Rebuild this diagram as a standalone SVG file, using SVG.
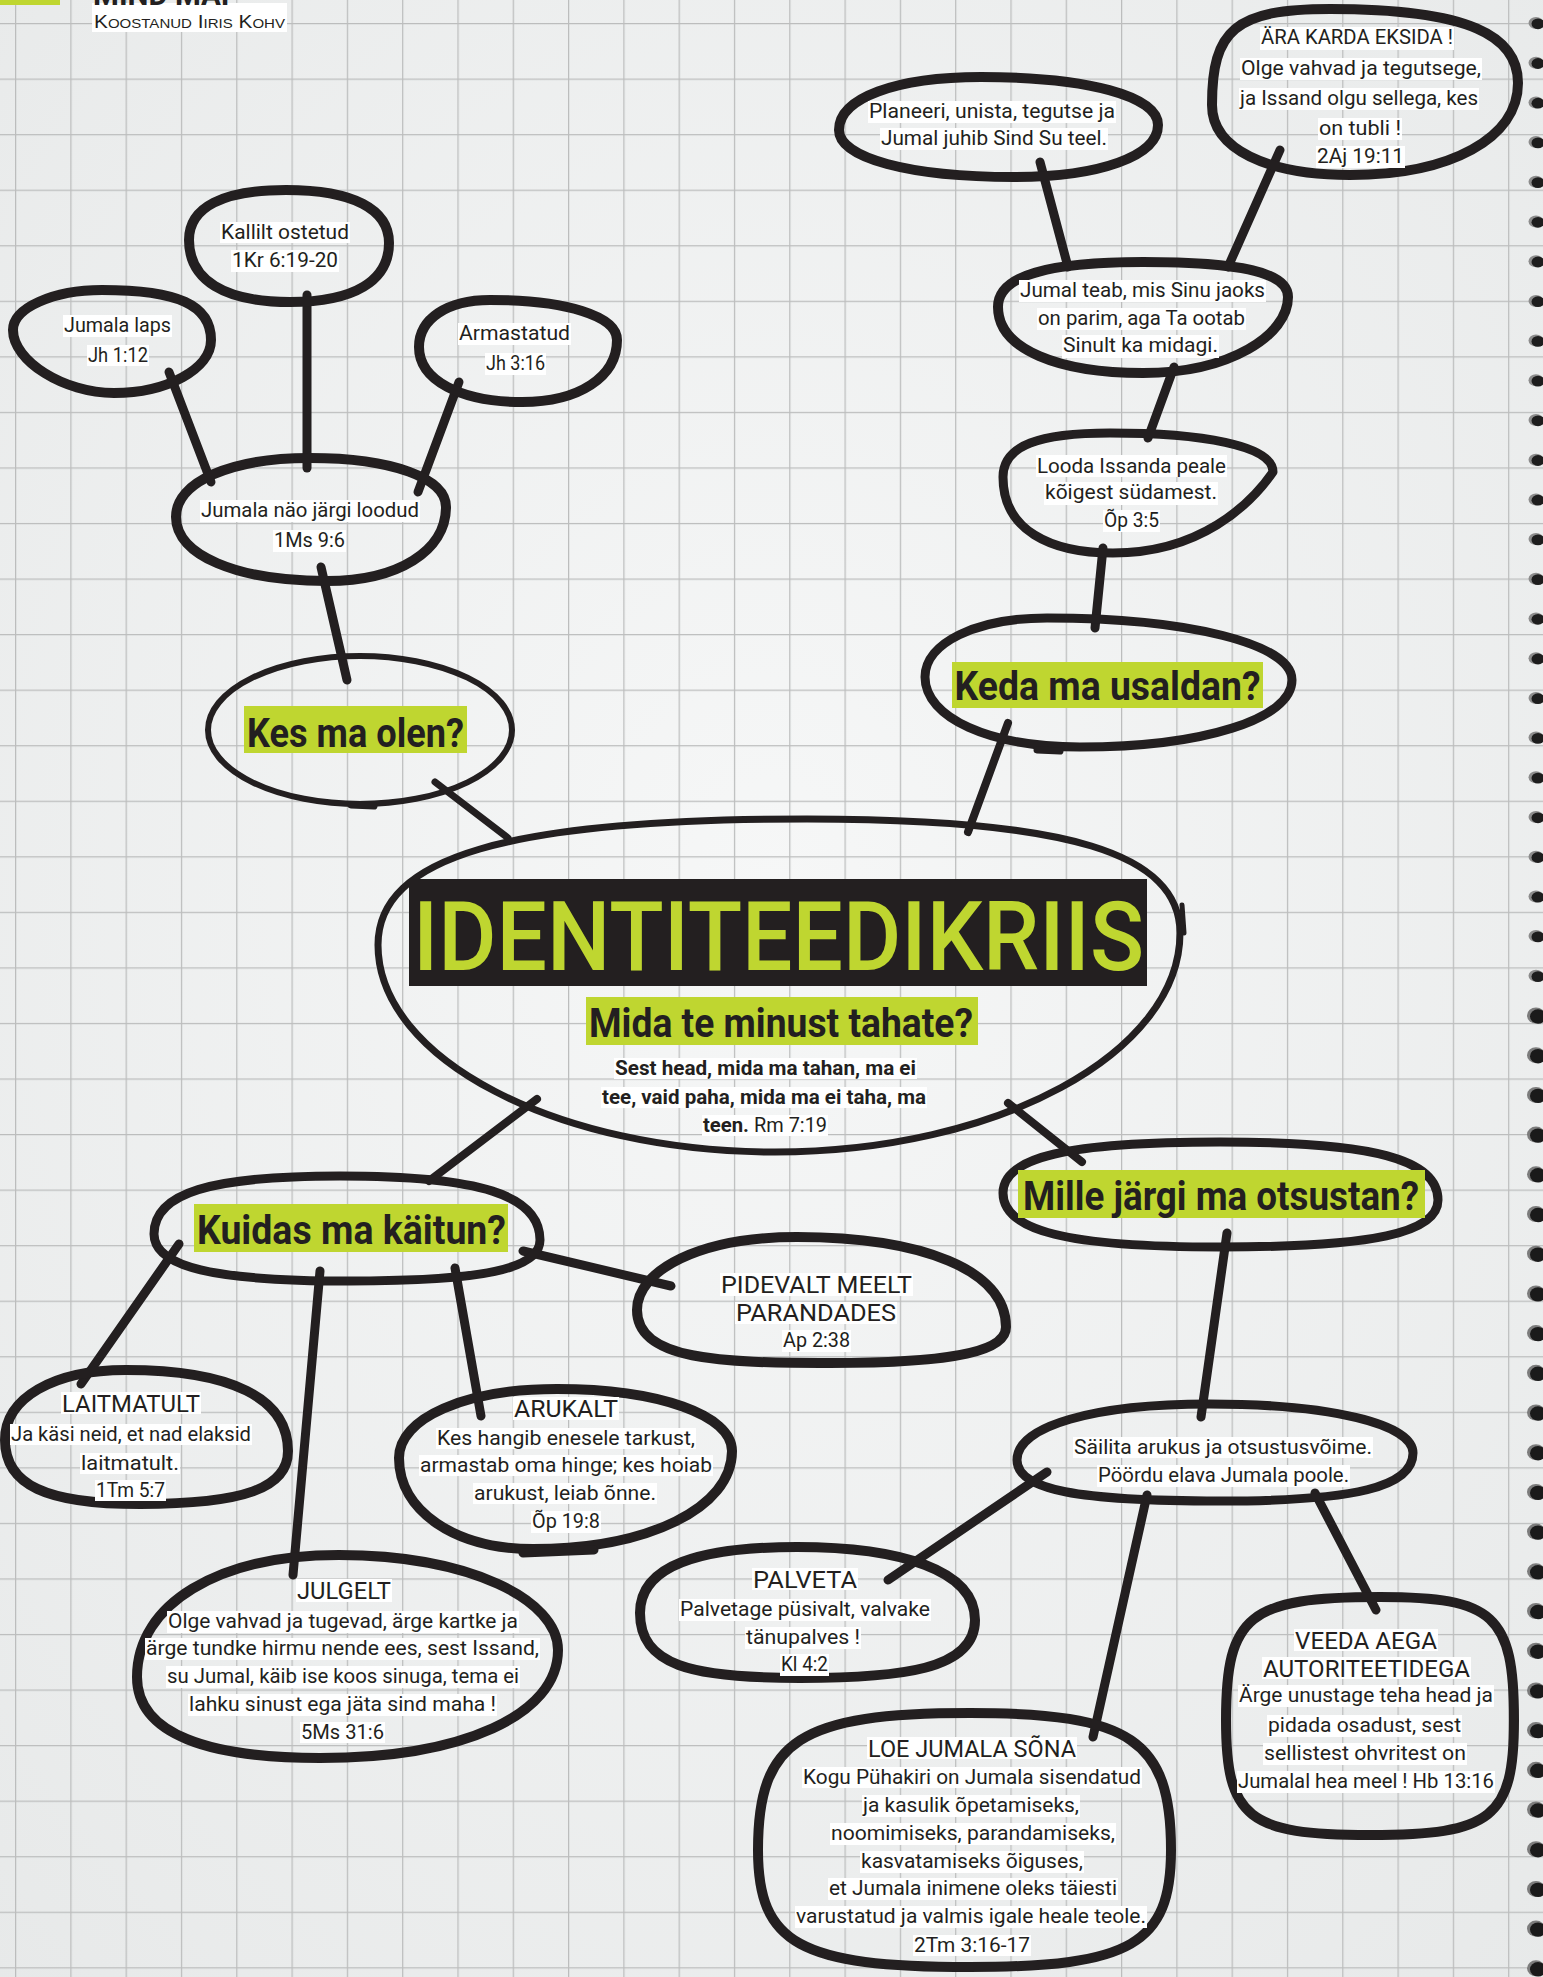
<svg xmlns="http://www.w3.org/2000/svg" xmlns:xlink="http://www.w3.org/1999/xlink" width="1543" height="1977" viewBox="0 0 1543 1977">
<defs>
<radialGradient id="paper" cx="50%" cy="45%" r="75%">
<stop offset="0" stop-color="#f6f7f7"/>
<stop offset="1" stop-color="#e7e9e9"/>
</radialGradient>
<pattern id="grid" patternUnits="userSpaceOnUse" x="15" y="23" width="55.3" height="55.55">
<path d="M0.6 0V55.55M0 0.6H55.3" stroke="#bcbdbd" stroke-width="1.3" fill="none"/>
</pattern>
<g id="ringA"><ellipse cx="0" cy="0" rx="7.5" ry="6" fill="#8c8c8c"/><ellipse cx="2" cy="0.8" rx="6.5" ry="5.4" fill="#1d1d1d"/></g>
<g id="ringB"><ellipse cx="0" cy="0" rx="9" ry="8" fill="#7c7c7c"/><ellipse cx="2" cy="1" rx="8" ry="7.2" fill="#1a1a1a"/></g>
</defs>
<style>
.blob{fill:none;stroke:#231f20;stroke-width:10;stroke-linecap:round;stroke-linejoin:round}
.con{stroke:#231f20;stroke-width:9;stroke-linecap:round;fill:none}
.hl{fill:#ffffff}
.t{font-family:Roboto,"Liberation Sans",sans-serif;font-size:21px;fill:#231f20;text-anchor:middle}
.cap{font-size:24px;font-weight:400}
.b{font-weight:700;font-size:20px}
.q{font-family:Roboto,"Liberation Sans",sans-serif;font-weight:700;font-size:41px;fill:#231f20;text-anchor:middle}
.g{fill:#bfd630}
</style>

<rect width="1543" height="1977" fill="url(#paper)"/>
<rect width="1543" height="1977" fill="url(#grid)"/>

<g id="binding">
<use xlink:href="#ringA" x="1536" y="23"/><use xlink:href="#ringA" x="1536" y="62.7"/><use xlink:href="#ringA" x="1536" y="102.4"/><use xlink:href="#ringA" x="1536" y="142.1"/><use xlink:href="#ringA" x="1536" y="181.8"/><use xlink:href="#ringA" x="1536" y="221.5"/><use xlink:href="#ringA" x="1536" y="261.2"/><use xlink:href="#ringA" x="1536" y="300.9"/><use xlink:href="#ringA" x="1536" y="340.6"/><use xlink:href="#ringA" x="1536" y="380.3"/><use xlink:href="#ringA" x="1536" y="420"/><use xlink:href="#ringA" x="1536" y="459.7"/><use xlink:href="#ringA" x="1536" y="499.4"/><use xlink:href="#ringA" x="1536" y="539.1"/><use xlink:href="#ringA" x="1536" y="578.8"/><use xlink:href="#ringA" x="1536" y="618.5"/><use xlink:href="#ringA" x="1536" y="658.2"/><use xlink:href="#ringA" x="1536" y="697.9"/><use xlink:href="#ringA" x="1536" y="737.6"/><use xlink:href="#ringA" x="1536" y="777.3"/><use xlink:href="#ringA" x="1536" y="817"/><use xlink:href="#ringA" x="1536" y="856.7"/><use xlink:href="#ringA" x="1536" y="896.4"/><use xlink:href="#ringA" x="1536" y="936.1"/><use xlink:href="#ringA" x="1536" y="975.8"/>
<use xlink:href="#ringB" x="1536" y="1015.5"/><use xlink:href="#ringB" x="1536" y="1055.2"/><use xlink:href="#ringB" x="1536" y="1094.9"/><use xlink:href="#ringB" x="1536" y="1134.6"/><use xlink:href="#ringB" x="1536" y="1174.3"/><use xlink:href="#ringB" x="1536" y="1214"/><use xlink:href="#ringB" x="1536" y="1253.7"/><use xlink:href="#ringB" x="1536" y="1293.4"/><use xlink:href="#ringB" x="1536" y="1333.1"/><use xlink:href="#ringB" x="1536" y="1372.8"/><use xlink:href="#ringB" x="1536" y="1412.5"/><use xlink:href="#ringB" x="1536" y="1452.2"/><use xlink:href="#ringB" x="1536" y="1491.9"/><use xlink:href="#ringB" x="1536" y="1531.6"/><use xlink:href="#ringB" x="1536" y="1571.3"/><use xlink:href="#ringB" x="1536" y="1611"/><use xlink:href="#ringB" x="1536" y="1650.7"/><use xlink:href="#ringB" x="1536" y="1690.4"/><use xlink:href="#ringB" x="1536" y="1730.1"/><use xlink:href="#ringB" x="1536" y="1769.8"/><use xlink:href="#ringB" x="1536" y="1809.5"/><use xlink:href="#ringB" x="1536" y="1849.2"/><use xlink:href="#ringB" x="1536" y="1888.9"/><use xlink:href="#ringB" x="1536" y="1928.6"/><use xlink:href="#ringB" x="1536" y="1968.3"/>
</g>

<g id="header">
<rect x="0" y="0" width="60" height="5" class="g"/>
<rect x="92" y="3" width="195" height="29" class="hl"/>
<text x="93" y="5" font-family="Roboto,'Liberation Sans',sans-serif" font-weight="700" font-size="30" fill="#231f20" textLength="147" lengthAdjust="spacingAndGlyphs">MIND MAP</text>
<text x="94" y="28" font-family="'Liberation Sans',Roboto,sans-serif" font-size="18" font-variant="small-caps" fill="#231f20" textLength="191" lengthAdjust="spacingAndGlyphs">Koostanud Iiris Kohv</text>
</g>

<g id="connectors">
<line class="con" x1="169" y1="372" x2="211" y2="482"/>
<line class="con" x1="307" y1="295" x2="307" y2="468"/>
<line class="con" x1="459" y1="382" x2="418" y2="492"/>
<line class="con" x1="321" y1="567" x2="347" y2="680"/>
<line class="con" x1="435" y1="782" x2="508" y2="838" style="stroke-width:7"/>
<line class="con" x1="968" y1="832" x2="1008" y2="723" style="stroke-width:8"/>
<line class="con" x1="1103" y1="548" x2="1095" y2="628"/>
<line class="con" x1="1174" y1="367" x2="1148" y2="438"/>
<line class="con" x1="1040" y1="162" x2="1068" y2="267"/>
<line class="con" x1="1280" y1="150" x2="1228" y2="267"/>
<line class="con" x1="537" y1="1099" x2="429" y2="1181" style="stroke-width:8"/>
<line class="con" x1="1008" y1="1103" x2="1082" y2="1162" style="stroke-width:8"/>
<line class="con" x1="1227" y1="1233" x2="1201" y2="1417"/>
<line class="con" x1="1047" y1="1472" x2="888" y2="1580"/>
<line class="con" x1="1147" y1="1495" x2="1093" y2="1737"/>
<line class="con" x1="1315" y1="1493" x2="1376" y2="1610"/>
<line class="con" x1="523" y1="1251" x2="671" y2="1286"/>
<line class="con" x1="179" y1="1244" x2="81" y2="1384"/>
<line class="con" x1="320" y1="1271" x2="293" y2="1575"/>
<line class="con" x1="455" y1="1268" x2="481" y2="1416"/>
</g>

<g id="node-jumala-laps">
<path class="blob" d="M102,290 C178,290 211,305 211,340 C211,369 167,393 114,393 C64,393 13,361 13,330 C13,308 53,290 102,290Z"/>
<rect class="hl" x="63" y="315" width="109" height="22"/>
<text class="t" x="117.5" y="332" textLength="107" lengthAdjust="spacingAndGlyphs">Jumala laps</text>
<rect class="hl" x="87" y="345" width="62" height="21"/>
<text class="t" x="118" y="362" textLength="60" lengthAdjust="spacingAndGlyphs">Jh 1:12</text>
</g>

<g id="node-kallilt">
<path class="blob" d="M286,190 C353,190 389,209 389,243 C389,281 354,302 290,302 C224,302 189,280 189,240 C189,207 223,190 286,190Z"/>
<rect class="hl" x="220" y="222" width="130" height="21"/>
<text class="t" x="285" y="239" textLength="128" lengthAdjust="spacingAndGlyphs">Kallilt ostetud</text>
<rect class="hl" x="231" y="250" width="108" height="22"/>
<text class="t" x="285" y="267" textLength="106" lengthAdjust="spacingAndGlyphs">1Kr 6:19-20</text>
</g>

<g id="node-armastatud">
<path class="blob" d="M490,300 C566,300 617,316 617,340 C617,377 579,402 522,402 C460,402 419,380 419,347 C419,319 447,300 490,300Z"/>
<rect class="hl" x="458" y="323" width="113" height="22"/>
<text class="t" x="514.5" y="340" textLength="111" lengthAdjust="spacingAndGlyphs">Armastatud</text>
<rect class="hl" x="485" y="353" width="61" height="22"/>
<text class="t" x="515.5" y="370" textLength="59" lengthAdjust="spacingAndGlyphs">Jh 3:16</text>
</g>

<g id="node-jumala-nao">
<path class="blob" d="M310,458 C392,458 446,478 446,507 C446,551 398,581 327,581 C236,581 176,555 176,517 C176,482 230,458 310,458Z"/>
<rect class="hl" x="200" y="500" width="220" height="22"/>
<text class="t" x="310" y="517" textLength="218" lengthAdjust="spacingAndGlyphs">Jumala näo järgi loodud</text>
<rect class="hl" x="273" y="530" width="73" height="22"/>
<text class="t" x="309.5" y="547" textLength="71" lengthAdjust="spacingAndGlyphs">1Ms 9:6</text>
</g>

<g id="node-kes-ma-olen">
<ellipse cx="360" cy="730" rx="152" ry="74" class="blob" style="stroke-width:6"/>
<line x1="351" y1="805" x2="374" y2="806" class="con" style="stroke-width:7"/>
<rect class="g" x="244" y="706" width="223" height="47"/>
<text class="q" x="355.5" y="747" font-size="42" textLength="217" lengthAdjust="spacingAndGlyphs">Kes ma olen?</text>
</g>

<g id="node-planeeri">
<path class="blob" d="M981,77 C1087,77 1158,96 1158,125 C1158,156 1100,177 1014,177 C909,177 839,158 839,130 C839,98 896,77 981,77Z"/>
<rect class="hl" x="868" y="101" width="248" height="22"/>
<text class="t" x="992" y="118" textLength="246" lengthAdjust="spacingAndGlyphs">Planeeri, unista, tegutse ja</text>
<rect class="hl" x="880" y="128" width="228" height="22"/>
<text class="t" x="994" y="145" textLength="226" lengthAdjust="spacingAndGlyphs">Jumal juhib Sind Su teel.</text>
</g>

<g id="node-ara-karda">
<path class="blob" d="M1330,9 C1470,9 1518,36 1518,83 C1518,138 1451,175 1350,175 C1267,175 1212,149 1212,105 C1212,30 1235,9 1330,9Z"/>
<rect class="hl" x="1260" y="27" width="194" height="23"/>
<text class="t" x="1357" y="44" textLength="192" lengthAdjust="spacingAndGlyphs">ÄRA KARDA EKSIDA !</text>
<rect class="hl" x="1240" y="58" width="242" height="22"/>
<text class="t" x="1361" y="75" textLength="240" lengthAdjust="spacingAndGlyphs">Olge vahvad ja tegutsege,</text>
<rect class="hl" x="1239" y="88" width="240" height="22"/>
<text class="t" x="1359" y="105" textLength="238" lengthAdjust="spacingAndGlyphs">ja Issand olgu sellega, kes</text>
<rect class="hl" x="1318" y="118" width="84" height="22"/>
<text class="t" x="1360" y="135" textLength="82" lengthAdjust="spacingAndGlyphs">on tubli !</text>
<rect class="hl" x="1316" y="146" width="89" height="22"/>
<text class="t" x="1360.5" y="163" textLength="87" lengthAdjust="spacingAndGlyphs">2Aj 19:11</text>
</g>

<g id="node-jumal-teab">
<path class="blob" d="M1143,262 C1240,262 1288,272 1288,297 C1288,335 1230,373 1143,373 C1060,373 998,350 998,307 C998,275 1050,262 1143,262Z"/>
<rect class="hl" x="1019" y="280" width="247" height="22"/>
<text class="t" x="1142.5" y="297" textLength="245" lengthAdjust="spacingAndGlyphs">Jumal teab, mis Sinu jaoks</text>
<rect class="hl" x="1037" y="308" width="209" height="22"/>
<text class="t" x="1141.5" y="325" textLength="207" lengthAdjust="spacingAndGlyphs">on parim, aga Ta ootab</text>
<rect class="hl" x="1062" y="335" width="157" height="23"/>
<text class="t" x="1140.5" y="352" textLength="155" lengthAdjust="spacingAndGlyphs">Sinult ka midagi.</text>
</g>

<g id="node-looda">
<path class="blob" style="stroke-width:9" d="M1110,433 C1200,433 1273,445 1273,472 C1250,505 1200,553 1113,553 C1050,553 1003,530 1003,477 C1003,445 1040,433 1110,433Z"/>
<rect class="hl" x="1036" y="455" width="191" height="22"/>
<text class="t" x="1131.5" y="473" textLength="189" lengthAdjust="spacingAndGlyphs">Looda Issanda peale</text>
<rect class="hl" x="1044" y="482" width="174" height="23"/>
<text class="t" x="1131" y="499" textLength="172" lengthAdjust="spacingAndGlyphs">kõigest südamest.</text>
<rect class="hl" x="1103" y="510" width="57" height="22"/>
<text class="t" x="1131.5" y="527" textLength="55" lengthAdjust="spacingAndGlyphs">Õp 3:5</text>
</g>

<g id="node-keda">
<path class="blob" style="stroke-width:9" d="M1047,618 C1189,618 1292,644 1292,680 C1292,719 1203,747 1080,747 C990,747 925,718 925,677 C925,643 976,618 1047,618Z"/>
<line x1="1037" y1="750" x2="1060" y2="751" class="con" style="stroke-width:7"/>
<rect class="g" x="952" y="662" width="311" height="46"/>
<text class="q" x="1107.5" y="700" font-size="40" textLength="306" lengthAdjust="spacingAndGlyphs">Keda ma usaldan?</text>
</g>

<g id="node-center">
<path class="blob" style="stroke-width:7" d="M807,819 C1068,819 1180,853 1180,933 C1180,1053 998,1152 775,1152 C557,1152 378,1059 378,945 C378,857 507,819 807,819Z"/>
<line x1="1182" y1="905" x2="1184" y2="933" class="con" style="stroke-width:5"/>
<rect x="409" y="879" width="738" height="107" fill="#231f20"/>
<text x="778.5" y="970" font-family="Roboto,'Liberation Sans',sans-serif" font-weight="500" font-size="96" fill="#bfd630" text-anchor="middle" textLength="731" lengthAdjust="spacingAndGlyphs">IDENTITEEDIKRIIS</text>
<rect class="g" x="586" y="997" width="392" height="48"/>
<text class="q" x="781" y="1037" font-size="38" textLength="384" lengthAdjust="spacingAndGlyphs">Mida te minust tahate?</text>
<rect class="hl" x="614" y="1058" width="303" height="21"/>
<text class="t b" x="765.5" y="1075" textLength="301" lengthAdjust="spacingAndGlyphs">Sest head, mida ma tahan, ma ei</text>
<rect class="hl" x="601" y="1087" width="326" height="21"/>
<text class="t b" x="764" y="1104" textLength="324" lengthAdjust="spacingAndGlyphs">tee, vaid paha, mida ma ei taha, ma</text>
<rect class="hl" x="702" y="1115" width="126" height="21"/>
<text class="t b" x="703" y="1132" style="text-anchor:start" textLength="46" lengthAdjust="spacingAndGlyphs">teen.</text>
<text class="t" x="754" y="1132" style="text-anchor:start;font-size:20px" textLength="73" lengthAdjust="spacingAndGlyphs">Rm 7:19</text>
</g>

<g id="node-kuidas">
<path class="blob" style="stroke-width:9" d="M340,1176 C480,1176 540,1195 540,1240 C540,1269 483,1281 350,1281 C213,1281 154,1267 154,1234 C154,1193 210,1176 340,1176Z"/>
<rect class="g" x="194" y="1204" width="314" height="48"/>
<text class="q" x="351.5" y="1244" font-size="40" textLength="309" lengthAdjust="spacingAndGlyphs">Kuidas ma käitun?</text>
</g>

<g id="node-mille">
<path class="blob" style="stroke-width:9" d="M1220,1142 C1373,1142 1438,1159 1438,1200 C1438,1233 1373,1247 1220,1247 C1068,1247 1003,1231 1003,1193 C1003,1157 1068,1142 1220,1142Z"/>
<rect class="g" x="1018" y="1170" width="407" height="48"/>
<text class="q" x="1221" y="1210" font-size="40" textLength="396" lengthAdjust="spacingAndGlyphs">Mille järgi ma otsustan?</text>
</g>

<g id="node-pidevalt">
<path class="blob" d="M797,1237 C922,1237 1006,1270 1006,1327 C1006,1350 960,1363 830,1363 C720,1363 637,1360 637,1310 C637,1270 700,1237 797,1237Z"/>
<rect class="hl" x="720" y="1273" width="193" height="23"/>
<text class="t cap" x="816.5" y="1293" textLength="191" lengthAdjust="spacingAndGlyphs">PIDEVALT MEELT</text>
<rect class="hl" x="735" y="1302" width="162" height="22"/>
<text class="t cap" x="816" y="1321" textLength="160" lengthAdjust="spacingAndGlyphs">PARANDADES</text>
<rect class="hl" x="782" y="1330" width="69" height="22"/>
<text class="t" x="816.5" y="1347" textLength="67" lengthAdjust="spacingAndGlyphs">Ap 2:38</text>
</g>

<g id="node-laitmatult">
<path class="blob" d="M126,1370 C231,1370 288,1398 288,1451 C288,1488 244,1504 140,1504 C46,1504 5,1485 5,1440 C5,1398 53,1370 126,1370Z"/>
<rect class="hl" x="61" y="1392" width="140" height="22"/>
<text class="t cap" x="131" y="1412" textLength="138" lengthAdjust="spacingAndGlyphs">LAITMATULT</text>
<rect class="hl" x="10" y="1424" width="242" height="21"/>
<text class="t" x="131" y="1441" textLength="240" lengthAdjust="spacingAndGlyphs">Ja käsi neid, et nad elaksid</text>
<rect class="hl" x="80" y="1453" width="100" height="21"/>
<text class="t" x="130" y="1470" textLength="98" lengthAdjust="spacingAndGlyphs">laitmatult.</text>
<rect class="hl" x="95" y="1480" width="71" height="21"/>
<text class="t" x="130.5" y="1497" textLength="69" lengthAdjust="spacingAndGlyphs">1Tm 5:7</text>
</g>

<g id="node-arukalt">
<path class="blob" d="M557,1389 C659,1389 732,1415 732,1451 C732,1508 648,1549 533,1549 C455,1549 399,1511 399,1458 C399,1418 465,1389 557,1389Z"/>
<line x1="523" y1="1553" x2="594" y2="1550" class="con" style="stroke-width:9"/>
<rect class="hl" x="513" y="1397" width="106" height="23"/>
<text class="t cap" x="566" y="1417" textLength="104" lengthAdjust="spacingAndGlyphs">ARUKALT</text>
<rect class="hl" x="436" y="1428" width="260" height="21"/>
<text class="t" x="566" y="1445" textLength="258" lengthAdjust="spacingAndGlyphs">Kes hangib enesele tarkust,</text>
<rect class="hl" x="419" y="1455" width="294" height="21"/>
<text class="t" x="566" y="1472" textLength="292" lengthAdjust="spacingAndGlyphs">armastab oma hinge; kes hoiab</text>
<rect class="hl" x="473" y="1483" width="184" height="21"/>
<text class="t" x="565" y="1500" textLength="182" lengthAdjust="spacingAndGlyphs">arukust, leiab õnne.</text>
<rect class="hl" x="531" y="1511" width="70" height="22"/>
<text class="t" x="566" y="1528" textLength="68" lengthAdjust="spacingAndGlyphs">Õp 19:8</text>
</g>

<g id="node-julgelt">
<path class="blob" d="M339,1555 C470,1555 558,1600 558,1650 C558,1715 463,1758 320,1758 C210,1758 137,1735 137,1677 C137,1604 218,1555 339,1555Z"/>
<rect class="hl" x="296" y="1579" width="96" height="23"/>
<text class="t cap" x="344" y="1599" textLength="94" lengthAdjust="spacingAndGlyphs">JULGELT</text>
<rect class="hl" x="167" y="1611" width="352" height="22"/>
<text class="t" x="343" y="1628" textLength="350" lengthAdjust="spacingAndGlyphs">Olge vahvad ja tugevad, ärge kartke ja</text>
<rect class="hl" x="145" y="1638" width="395" height="22"/>
<text class="t" x="342.5" y="1655" textLength="393" lengthAdjust="spacingAndGlyphs">ärge tundke hirmu nende ees, sest Issand,</text>
<rect class="hl" x="166" y="1666" width="354" height="22"/>
<text class="t" x="343" y="1683" textLength="352" lengthAdjust="spacingAndGlyphs">su Jumal, käib ise koos sinuga, tema ei</text>
<rect class="hl" x="188" y="1694" width="309" height="22"/>
<text class="t" x="342.5" y="1711" textLength="307" lengthAdjust="spacingAndGlyphs">lahku sinust ega jäta sind maha !</text>
<rect class="hl" x="300" y="1722" width="85" height="21"/>
<text class="t" x="342.5" y="1739" textLength="83" lengthAdjust="spacingAndGlyphs">5Ms 31:6</text>
</g>

<g id="node-sailita">
<path class="blob" style="stroke-width:9" d="M1209,1404 C1331,1404 1413,1424 1413,1453 C1413,1487 1355,1501 1220,1501 C1078,1501 1017,1490 1017,1460 C1017,1426 1094,1404 1209,1404Z"/>
<rect class="hl" x="1073" y="1437" width="300" height="21"/>
<text class="t" x="1223" y="1454" textLength="298" lengthAdjust="spacingAndGlyphs">Säilita arukus ja otsustusvõime.</text>
<rect class="hl" x="1097" y="1465" width="253" height="22"/>
<text class="t" x="1223.5" y="1482" textLength="251" lengthAdjust="spacingAndGlyphs">Pöördu elava Jumala poole.</text>
</g>

<g id="node-palveta">
<path class="blob" d="M797,1547 C900,1547 975,1570 975,1620 C975,1670 900,1678 800,1678 C690,1678 640,1665 640,1613 C640,1565 700,1547 797,1547Z"/>
<rect class="hl" x="752" y="1568" width="106" height="22"/>
<text class="t cap" x="805" y="1588" textLength="104" lengthAdjust="spacingAndGlyphs">PALVETA</text>
<rect class="hl" x="679" y="1599" width="252" height="22"/>
<text class="t" x="805" y="1616" textLength="250" lengthAdjust="spacingAndGlyphs">Palvetage püsivalt, valvake</text>
<rect class="hl" x="745" y="1627" width="116" height="22"/>
<text class="t" x="803" y="1644" textLength="114" lengthAdjust="spacingAndGlyphs">tänupalves !</text>
<rect class="hl" x="780" y="1654" width="49" height="22"/>
<text class="t" x="804.5" y="1671" textLength="47" lengthAdjust="spacingAndGlyphs">Kl 4:2</text>
</g>

<g id="node-veeda">
<path class="blob" d="M1380,1597 C1494,1597 1514,1615 1514,1720 C1514,1818 1492,1835 1370,1835 C1248,1835 1226,1818 1226,1720 C1226,1615 1249,1597 1380,1597Z"/>
<rect class="hl" x="1294" y="1629" width="144" height="22"/>
<text class="t cap" x="1366" y="1649" textLength="142" lengthAdjust="spacingAndGlyphs">VEEDA AEGA</text>
<rect class="hl" x="1262" y="1657" width="209" height="22"/>
<text class="t cap" x="1366.5" y="1677" textLength="207" lengthAdjust="spacingAndGlyphs">AUTORITEETIDEGA</text>
<rect class="hl" x="1238" y="1685" width="256" height="22"/>
<text class="t" x="1366" y="1702" textLength="254" lengthAdjust="spacingAndGlyphs">Ärge unustage teha head ja</text>
<rect class="hl" x="1267" y="1715" width="195" height="22"/>
<text class="t" x="1364.5" y="1732" textLength="193" lengthAdjust="spacingAndGlyphs">pidada osadust, sest</text>
<rect class="hl" x="1263" y="1743" width="204" height="22"/>
<text class="t" x="1365" y="1760" textLength="202" lengthAdjust="spacingAndGlyphs">sellistest ohvritest on</text>
<rect class="hl" x="1237" y="1771" width="258" height="22"/>
<text class="t" x="1366" y="1788" textLength="256" lengthAdjust="spacingAndGlyphs">Jumalal hea meel !  Hb 13:16</text>
</g>

<g id="node-loe">
<path class="blob" d="M970,1713 C1131,1713 1171,1740 1171,1850 C1171,1944 1131,1967 970,1967 C800,1967 758,1944 758,1850 C758,1740 800,1713 970,1713Z"/>
<rect class="hl" x="867" y="1737" width="210" height="22"/>
<text class="t cap" x="972" y="1757" textLength="208" lengthAdjust="spacingAndGlyphs">LOE JUMALA SÕNA</text>
<rect class="hl" x="802" y="1767" width="340" height="21"/>
<text class="t" x="972" y="1784" textLength="338" lengthAdjust="spacingAndGlyphs">Kogu Pühakiri on Jumala sisendatud</text>
<rect class="hl" x="862" y="1795" width="218" height="22"/>
<text class="t" x="971" y="1812" textLength="216" lengthAdjust="spacingAndGlyphs">ja kasulik õpetamiseks,</text>
<rect class="hl" x="830" y="1823" width="286" height="22"/>
<text class="t" x="973" y="1840" textLength="284" lengthAdjust="spacingAndGlyphs">noomimiseks, parandamiseks,</text>
<rect class="hl" x="860" y="1851" width="224" height="22"/>
<text class="t" x="972" y="1868" textLength="222" lengthAdjust="spacingAndGlyphs">kasvatamiseks õiguses,</text>
<rect class="hl" x="828" y="1878" width="290" height="22"/>
<text class="t" x="973" y="1895" textLength="288" lengthAdjust="spacingAndGlyphs">et Jumala inimene oleks täiesti</text>
<rect class="hl" x="795" y="1906" width="352" height="22"/>
<text class="t" x="971" y="1923" textLength="350" lengthAdjust="spacingAndGlyphs">varustatud ja valmis igale heale teole.</text>
<rect class="hl" x="913" y="1935" width="118" height="21"/>
<text class="t" x="972" y="1952" textLength="116" lengthAdjust="spacingAndGlyphs">2Tm 3:16-17</text>
</g>
</svg>
